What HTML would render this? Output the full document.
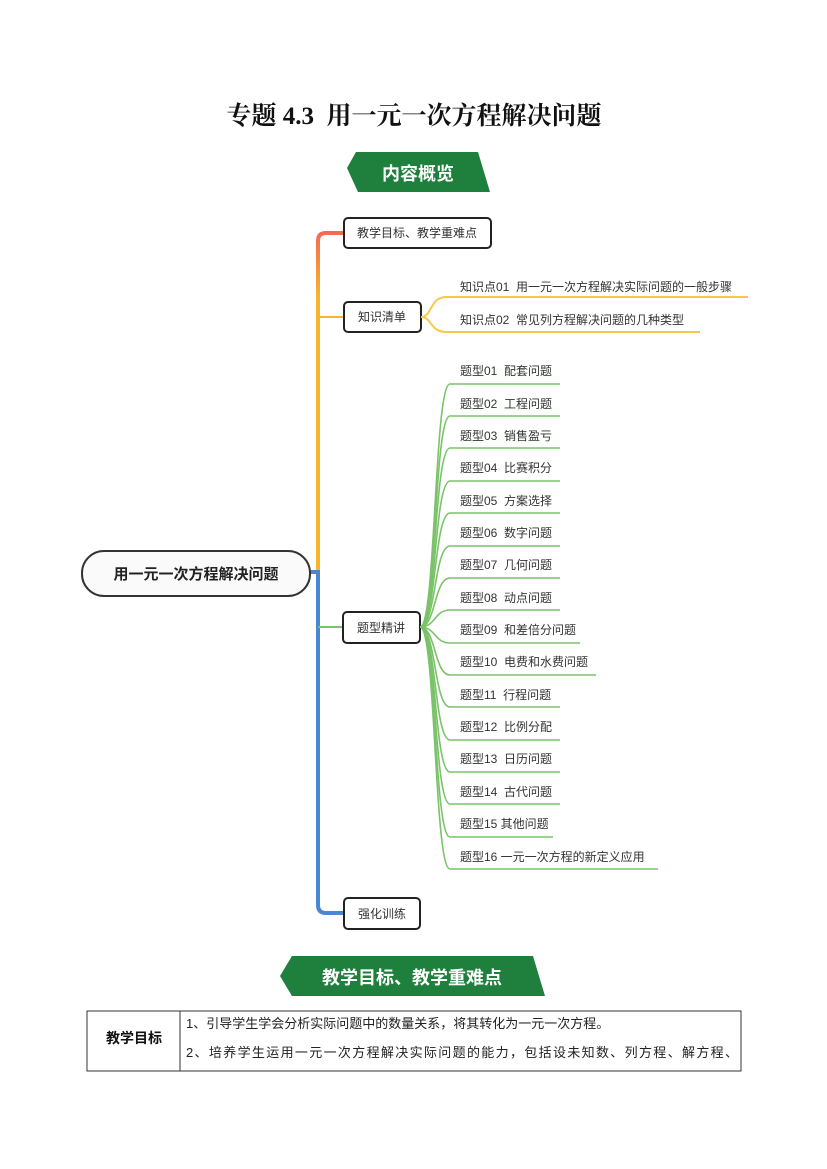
<!DOCTYPE html>
<html><head><meta charset="utf-8"><style>
body{margin:0;background:#fff}
svg{display:block}
.t{font-family:"Liberation Sans","Noto Sans CJK SC",sans-serif;fill:#333;font-size:12px;white-space:pre}
</style></head><body>
<svg width="827" height="1169" viewBox="0 0 827 1169" xmlns="http://www.w3.org/2000/svg">
<text x="414" y="124" text-anchor="middle" style="font-family:'Liberation Serif','Noto Serif CJK SC',serif;font-size:25px;font-weight:bold;fill:#111;white-space:pre">专题 4.3  用一元一次方程解决问题</text>
<polygon points="356,152 478,152 490,192 358,192 347,168" fill="#1f7f3c"/>
<text x="418" y="180" text-anchor="middle" style="font-family:'Liberation Sans','Noto Sans CJK SC',sans-serif;font-size:18px;font-weight:bold;fill:#fff">内容概览</text>
<defs><linearGradient id="g1" x1="0" y1="0" x2="0" y2="1"><stop offset="0" stop-color="#f26b50"/><stop offset="1" stop-color="#f8b82c"/></linearGradient></defs>
<path d="M344,233 L326,233 Q318,233 318,241 L318,300" stroke="url(#g1)" stroke-width="4" fill="none"/>
<path d="M318,298 L318,572" stroke="#f9b52a" stroke-width="4" fill="none"/>
<path d="M318,317 L344,317" stroke="#f9b52a" stroke-width="2"/>
<path d="M310,572 L318,572 L318,905 Q318,913 326,913 L344,913" stroke="#4a86d6" stroke-width="4" fill="none"/>
<path d="M318,627 L343,627" stroke="#7ac36a" stroke-width="2"/>
<rect x="82" y="551" width="228" height="45" rx="22" fill="#fafafa" stroke="#333" stroke-width="2"/>
<text x="196" y="579" text-anchor="middle" style="font-family:'Liberation Sans','Noto Sans CJK SC',sans-serif;font-size:15px;font-weight:bold;fill:#222">用一元一次方程解决问题</text>
<rect x="344" y="218" width="147" height="30" rx="4" fill="#fff" stroke="#222" stroke-width="2"/>
<text x="417" y="237" text-anchor="middle" class="t">教学目标、教学重难点</text>
<rect x="344" y="302" width="77" height="30" rx="4" fill="#fff" stroke="#222" stroke-width="2"/>
<text x="382" y="321" text-anchor="middle" class="t">知识清单</text>
<rect x="343" y="612" width="77" height="31" rx="4" fill="#fff" stroke="#222" stroke-width="2"/>
<text x="381" y="632" text-anchor="middle" class="t">题型精讲</text>
<rect x="344" y="898" width="76" height="31" rx="4" fill="#fff" stroke="#222" stroke-width="2"/>
<text x="382" y="918" text-anchor="middle" class="t">强化训练</text>
<path d="M421,317 C432,317 430,297 446,297 L748,297" stroke="#f7c84a" stroke-width="2" fill="none"/>
<path d="M421,317 C432,317 430,332 446,332 L700,332" stroke="#f7c84a" stroke-width="2" fill="none"/>
<text x="460" y="291" class="t">知识点01  用一元一次方程解决实际问题的一般步骤</text>
<text x="460" y="324" class="t">知识点02  常见列方程解决问题的几种类型</text>
<g stroke="#7ac36a" stroke-width="1.6" fill="none">
<path d="M420,627 C436,627 434,384 450,384 L560,384"/>
<path d="M420,627 C436,627 434,416 450,416 L560,416"/>
<path d="M420,627 C436,627 434,448 450,448 L560,448"/>
<path d="M420,627 C436,627 434,481 450,481 L560,481"/>
<path d="M420,627 C436,627 434,513 450,513 L560,513"/>
<path d="M420,627 C436,627 434,546 450,546 L560,546"/>
<path d="M420,627 C436,627 434,578 450,578 L560,578"/>
<path d="M420,627 C436,627 434,610 450,610 L560,610"/>
<path d="M420,627 C436,627 434,643 450,643 L580,643"/>
<path d="M420,627 C436,627 434,675 450,675 L596,675"/>
<path d="M420,627 C436,627 434,707 450,707 L560,707"/>
<path d="M420,627 C436,627 434,740 450,740 L560,740"/>
<path d="M420,627 C436,627 434,772 450,772 L560,772"/>
<path d="M420,627 C436,627 434,804 450,804 L560,804"/>
<path d="M420,627 C436,627 434,837 450,837 L553,837"/>
<path d="M420,627 C436,627 434,869 450,869 L658,869"/>
</g>
<g>
<text x="460" y="375" class="t">题型01  配套问题</text>
<text x="460" y="408" class="t">题型02  工程问题</text>
<text x="460" y="440" class="t">题型03  销售盈亏</text>
<text x="460" y="472" class="t">题型04  比赛积分</text>
<text x="460" y="505" class="t">题型05  方案选择</text>
<text x="460" y="537" class="t">题型06  数字问题</text>
<text x="460" y="569" class="t">题型07  几何问题</text>
<text x="460" y="602" class="t">题型08  动点问题</text>
<text x="460" y="634" class="t">题型09  和差倍分问题</text>
<text x="460" y="666" class="t">题型10  电费和水费问题</text>
<text x="460" y="699" class="t">题型11  行程问题</text>
<text x="460" y="731" class="t">题型12  比例分配</text>
<text x="460" y="763" class="t">题型13  日历问题</text>
<text x="460" y="796" class="t">题型14  古代问题</text>
<text x="460" y="828" class="t">题型15 其他问题</text>
<text x="460" y="861" class="t">题型16 一元一次方程的新定义应用</text>
</g>
<polygon points="292,956 533,956 545,996 292,996 280,976" fill="#1f7f3c"/>
<text x="412" y="984" text-anchor="middle" style="font-family:'Liberation Sans','Noto Sans CJK SC',sans-serif;font-size:18px;font-weight:bold;fill:#fff">教学目标、教学重难点</text>
<rect x="87" y="1011" width="654" height="60" fill="none" stroke="#333" stroke-width="1"/>
<line x1="180" y1="1011" x2="180" y2="1071" stroke="#333" stroke-width="1"/>
<text x="134" y="1043" text-anchor="middle" style="font-family:'Liberation Sans','Noto Sans CJK SC',sans-serif;font-size:14px;font-weight:bold;fill:#111">教学目标</text>
<text x="186" y="1028" style="font-family:'Liberation Sans','Noto Sans CJK SC',sans-serif;font-size:13px;fill:#222">1、引导学生学会分析实际问题中的数量关系，将其转化为一元一次方程。</text>
<text x="186" y="1057" style="font-family:'Liberation Sans','Noto Sans CJK SC',sans-serif;font-size:13px;fill:#222" textLength="552">2、培养学生运用一元一次方程解决实际问题的能力，包括设未知数、列方程、解方程、</text>
</svg>
</body></html>
